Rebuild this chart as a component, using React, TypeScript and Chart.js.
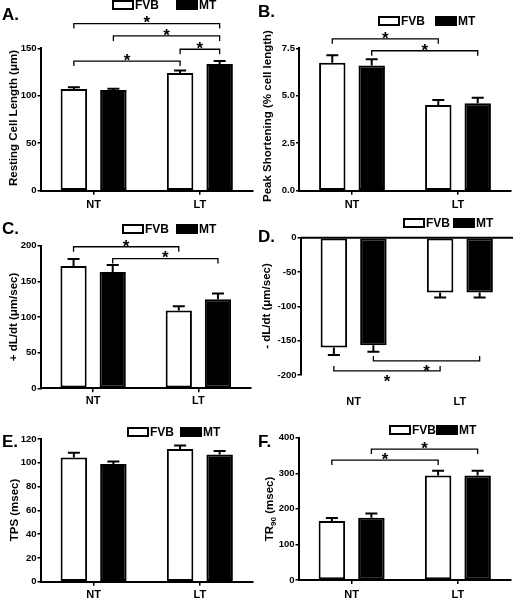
import React, { useEffect, useRef } from 'react';
import { Chart, registerables } from 'chart.js';
Chart.register(...registerables);

const W = 514;
const H = 600;
const FONT = '"Liberation Sans", Arial, Helvetica, sans-serif';

const categories = ['NT', 'LT'];
const seriesLabels = ['FVB', 'MT'];

// A. Resting cell length
const restingFVB = [107, 124];
const restingFVBErr = [2, 2.5];
const restingMT = [106, 133.5];
const restingMTErr = [1.5, 3];
const restingTicks = [0, 50, 100, 150];
const restingBrackets = [[0, 0, 1, 1, 176], [0, 1, 1, 1, 163], [1, 0, 1, 1, 149], [0, 0, 1, 0, 136.5]];

// B. Peak shortening
const peakFVB = [6.74, 4.51];
const peakFVBErr = [0.4, 0.27];
const peakMT = [6.6, 4.6];
const peakMTErr = [0.32, 0.3];
const peakTicks = [0, 2.5, 5, 7.5];
const peakBrackets = [[0, 0, 1, 0, 8.0], [0, 1, 1, 1, 7.37]];

// C. +dL/dt
const plusFVB = [171.5, 109];
const plusFVBErr = [10, 6];
const plusMT = [163, 125];
const plusMTErr = [10, 8];
const plusTicks = [0, 50, 100, 150, 200];
const plusBrackets = [[0, 0, 1, 0, 198.5], [0, 1, 1, 1, 182]];

// D. -dL/dt
const minusFVB = [-160, -80];
const minusFVBErr = [11, 7];
const minusMT = [-156.5, -80];
const minusMTErr = [9.5, 7];
const minusTicks = [-200, -150, -100, -50, 0];
const minusBrackets = [[0, 1, 1, 1, -179.5], [0, 0, 1, 0, -194]];

// E. TPS
const tpsFVB = [104.5, 111.5];
const tpsFVBErr = [4, 3];
const tpsMT = [99, 107];
const tpsMTErr = [2, 3];
const tpsTicks = [0, 20, 40, 60, 80, 100, 120];
const tpsBrackets: number[][] = [];

// F. TR90
const trFVB = [166, 294];
const trFVBErr = [8, 13];
const trMT = [175, 294];
const trMTErr = [12, 13];
const trTicks = [0, 100, 200, 300, 400];
const trBrackets = [[0, 0, 1, 0, 337], [0, 1, 1, 1, 368]];

type Part = { t: string; sub?: boolean };
type Panel = {
  letter: string; lx: number; ly: number;
  title: Part[]; tx: number; ty: number;
  fvb: number[]; fvbErr: number[]; mt: number[]; mtErr: number[];
  ticks: number[]; decimals: number;
  brackets: number[][]; dir: number;
  area: { l: number; t: number; r: number; b: number };
  xPad: number; xTickMarks: boolean;
  legX: number; legY: number; legMT: number;
};

const panels: Panel[] = [
  {
    letter: 'A.', lx: 2, ly: 15,
    title: [{ t: 'Resting Cell Length (μm)' }], tx: 14, ty: 118,
    fvb: restingFVB, fvbErr: restingFVBErr, mt: restingMT, mtErr: restingMTErr,
    ticks: restingTicks, decimals: 0, brackets: restingBrackets, dir: 1,
    area: { l: 40.5, t: 48.3, r: 253, b: 190.7 }, xPad: 4, xTickMarks: true,
    legX: 113, legY: 5, legMT: 177,
  },
  {
    letter: 'B.', lx: 258, ly: 12,
    title: [{ t: 'Peak Shortening (% cell length)' }], tx: 268, ty: 116,
    fvb: peakFVB, fvbErr: peakFVBErr, mt: peakMT, mtErr: peakMTErr,
    ticks: peakTicks, decimals: 1, brackets: peakBrackets, dir: 1,
    area: { l: 299, t: 48.3, r: 511, b: 190.7 }, xPad: 4, xTickMarks: true,
    legX: 379, legY: 21, legMT: 436,
  },
  {
    letter: 'C.', lx: 2, ly: 229,
    title: [{ t: '+ dL/dt (μm/sec)' }], tx: 14, ty: 317,
    fvb: plusFVB, fvbErr: plusFVBErr, mt: plusMT, mtErr: plusMTErr,
    ticks: plusTicks, decimals: 0, brackets: plusBrackets, dir: 1,
    area: { l: 40.5, t: 245.7, r: 251, b: 388.3 }, xPad: 2, xTickMarks: true,
    legX: 123, legY: 229, legMT: 177,
  },
  {
    letter: 'D.', lx: 258, ly: 237,
    title: [{ t: '- dL/dt (μm/sec)' }], tx: 267, ty: 306,
    fvb: minusFVB, fvbErr: minusFVBErr, mt: minusMT, mtErr: minusMTErr,
    ticks: minusTicks, decimals: 0, brackets: minusBrackets, dir: -1,
    area: { l: 300.5, t: 237.7, r: 513, b: 375 }, xPad: 20, xTickMarks: false,
    legX: 404, legY: 223, legMT: 454,
  },
  {
    letter: 'E.', lx: 2, ly: 442,
    title: [{ t: 'TPS (msec)' }], tx: 15, ty: 510,
    fvb: tpsFVB, fvbErr: tpsFVBErr, mt: tpsMT, mtErr: tpsMTErr,
    ticks: tpsTicks, decimals: 0, brackets: tpsBrackets, dir: 1,
    area: { l: 40.5, t: 439, r: 253, b: 581.7 }, xPad: 3, xTickMarks: true,
    legX: 128, legY: 432, legMT: 181,
  },
  {
    letter: 'F.', lx: 258, ly: 442,
    title: [{ t: 'TR' }, { t: '90', sub: true }, { t: ' (msec)' }], tx: 270, ty: 509,
    fvb: trFVB, fvbErr: trFVBErr, mt: trMT, mtErr: trMTErr,
    ticks: trTicks, decimals: 0, brackets: trBrackets, dir: 1,
    area: { l: 298.5, t: 437.7, r: 511, b: 580 }, xPad: 4, xTickMarks: true,
    legX: 390, legY: 430, legMT: 437,
  },
];

function makeOverlay(p: Panel) {
  return {
    id: 'overlay',
    afterDatasetsDraw(chart: any) {
      const ctx = chart.ctx as CanvasRenderingContext2D;
      const ys = chart.scales.y;
      const vals = [p.fvb, p.mt];
      const errs = [p.fvbErr, p.mtErr];
      ctx.save();
      ctx.strokeStyle = '#000';
      ctx.lineWidth = 2;
      for (let d = 0; d < 2; d++) {
        const meta = chart.getDatasetMeta(d);
        meta.data.forEach((bar: any, i: number) => {
          const v = vals[d][i];
          const e = errs[d][i];
          const s = v < 0 ? -1 : 1;
          const y0 = ys.getPixelForValue(v);
          const y1 = ys.getPixelForValue(v + s * e);
          ctx.beginPath();
          ctx.moveTo(bar.x, y0);
          ctx.lineTo(bar.x, y1);
          ctx.moveTo(bar.x - 6, y1);
          ctx.lineTo(bar.x + 6, y1);
          ctx.stroke();
        });
      }
      if (p.ticks[p.ticks.length - 1] === 0) {
        const z = ys.getPixelForValue(0);
        ctx.beginPath();
        ctx.moveTo(chart.chartArea.left, z);
        ctx.lineTo(chart.chartArea.right, z);
        ctx.stroke();
      }
      ctx.lineWidth = 1.3;
      ctx.fillStyle = '#000';
      ctx.font = `bold 17px ${FONT}`;
      ctx.textAlign = 'center';
      ctx.textBaseline = 'alphabetic';
      p.brackets.forEach(([c0, s0, c1, s1, lvl]) => {
        const x0 = chart.getDatasetMeta(s0).data[c0].x;
        const x1 = chart.getDatasetMeta(s1).data[c1].x;
        const by = ys.getPixelForValue(lvl);
        const drop = 5 * p.dir;
        ctx.beginPath();
        ctx.moveTo(x0, by + drop);
        ctx.lineTo(x0, by);
        ctx.lineTo(x1, by);
        ctx.lineTo(x1, by + drop);
        ctx.stroke();
        const starCenter = p.dir > 0 ? by - 5 : by + 6;
        ctx.fillText('*', (x0 + x1) / 2, starCenter + 9.8);
      });
      ctx.restore();
    },
    afterDraw(chart: any) {
      const ctx = chart.ctx as CanvasRenderingContext2D;
      ctx.save();
      // legend
      ctx.lineWidth = 2;
      ctx.strokeStyle = '#000';
      ctx.fillStyle = '#fff';
      ctx.fillRect(p.legX, p.legY - 4, 20, 8);
      ctx.strokeRect(p.legX, p.legY - 4, 20, 8);
      ctx.fillStyle = '#000';
      ctx.fillRect(p.legMT - 1, p.legY - 5, 22, 10);
      ctx.font = `bold 12px ${FONT}`;
      ctx.textAlign = 'left';
      ctx.textBaseline = 'middle';
      ctx.fillText(seriesLabels[0], p.legX + 22, p.legY + 0.5);
      ctx.fillText(seriesLabels[1], p.legMT + 22, p.legY + 0.5);
      // panel letter
      ctx.font = `bold 17px ${FONT}`;
      ctx.fillText(p.letter, p.lx, p.ly);
      // y title
      ctx.translate(p.tx, p.ty);
      ctx.rotate(-Math.PI / 2);
      const normal = `bold 11.5px ${FONT}`;
      const small = `bold 8px ${FONT}`;
      let total = 0;
      p.title.forEach((part) => {
        ctx.font = part.sub ? small : normal;
        total += ctx.measureText(part.t).width;
      });
      let x = -total / 2;
      p.title.forEach((part) => {
        ctx.font = part.sub ? small : normal;
        ctx.fillText(part.t, x, part.sub ? 3.5 : 0);
        x += ctx.measureText(part.t).width;
      });
      ctx.restore();
    },
  };
}

function makeConfig(p: Panel): any {
  const tickFont = { family: FONT, size: 9.5, weight: 'bold' as const };
  const xh = Math.min(32, H - p.area.b);
  return {
    type: 'bar',
    data: {
      labels: categories,
      datasets: [
        {
          label: seriesLabels[0], data: p.fvb, backgroundColor: '#fff', borderColor: '#000',
          borderWidth: 2, borderSkipped: false, categoryPercentage: 0.744, barPercentage: 0.67,
        },
        {
          label: seriesLabels[1], data: p.mt, backgroundColor: '#000', borderColor: '#000',
          borderWidth: 2, borderSkipped: false, categoryPercentage: 0.744, barPercentage: 0.67,
        },
      ],
    },
    options: {
      responsive: false,
      animation: false,
      devicePixelRatio: 1,
      events: [],
      layout: {
        padding: { left: p.area.l - 40, top: p.area.t, right: W - p.area.r, bottom: H - p.area.b - xh },
      },
      plugins: { legend: { display: false }, tooltip: { enabled: false }, title: { display: false } },
      scales: {
        x: {
          type: 'category',
          offset: true,
          afterFit: (s: any) => { s.height = xh; },
          border: { display: p.xTickMarks, color: '#000', width: 2 },
          grid: {
            display: p.xTickMarks, offset: false, drawOnChartArea: false, drawTicks: p.xTickMarks,
            tickLength: 4, color: '#000', lineWidth: 1.5,
          },
          ticks: {
            color: '#000', font: { family: FONT, size: 11, weight: 'bold' }, padding: p.xPad,
            maxRotation: 0, autoSkip: false,
          },
        },
        y: {
          min: p.ticks[0],
          max: p.ticks[p.ticks.length - 1],
          afterFit: (s: any) => { s.width = 40; },
          afterBuildTicks: (s: any) => { s.ticks = p.ticks.map((v) => ({ value: v })); },
          border: { display: true, color: '#000', width: 2 },
          grid: { drawOnChartArea: false, drawTicks: true, tickLength: 3, color: '#000', lineWidth: 1.5 },
          ticks: {
            color: '#000', font: tickFont, padding: 1,
            callback: (v: any) => Number(v).toFixed(p.decimals),
          },
        },
      },
    },
    plugins: [makeOverlay(p)],
  };
}

function PanelChart({ p }: { p: Panel }) {
  const ref = useRef<HTMLCanvasElement>(null);
  useEffect(() => {
    const chart = new Chart(ref.current as HTMLCanvasElement, makeConfig(p));
    return () => chart.destroy();
  }, [p]);
  return (
    <canvas
      ref={ref}
      width={W}
      height={H}
      style={{ position: 'absolute', left: 0, top: 0, width: W, height: H }}
    />
  );
}

export default function App() {
  return (
    <div style={{ position: 'absolute', left: 0, top: 0, width: W, height: H, background: '#fff', overflow: 'hidden' }}>
      {panels.map((p) => (
        <PanelChart key={p.letter} p={p} />
      ))}
    </div>
  );
}
